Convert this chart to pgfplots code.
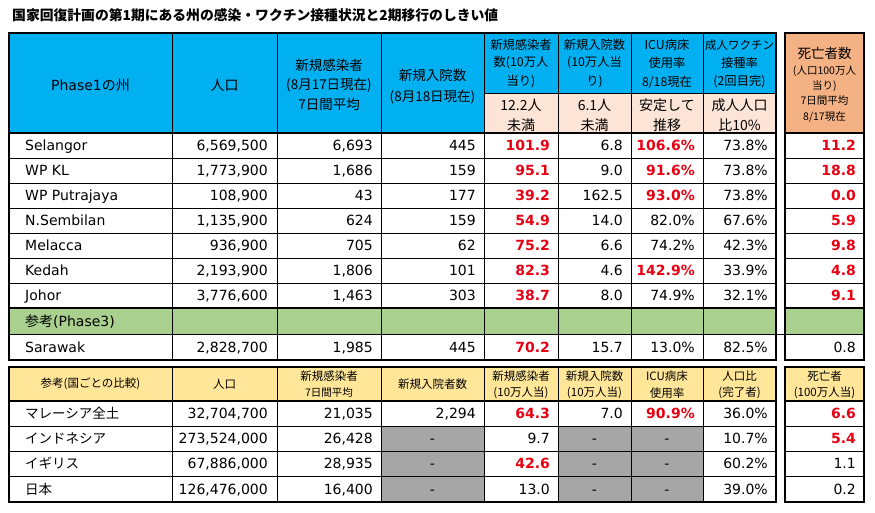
\documentclass[border=0pt]{standalone}
\usepackage{fontspec}
\setmainfont{DejaVu Sans}
\newfontfamily\jp{Noto Sans CJK JP}
\usepackage{pgfplots}
\pgfplotsset{compat=1.18}
\pgfkeys{/pgf/number format/assume math mode=true}
\definecolor{hblue}{RGB}{0,176,240}
\definecolor{hpeach}{RGB}{252,228,214}
\definecolor{horange}{RGB}{244,177,131}
\definecolor{hgreen}{RGB}{169,208,142}
\definecolor{hyellow}{RGB}{255,230,153}
\definecolor{hgray}{RGB}{166,166,166}
\definecolor{hired}{RGB}{232,0,18}
\newcommand\fs[1]{\fontsize{#1}{#1}\selectfont}
\pgfplotsset{
  cell/.style={draw=none, mark=none, point meta=explicit, nodes near coords,
    every node near coord/.append style={anchor=base east, yshift=-5pt, inner sep=0pt, font=\fs{14}, text=black}},
  intc/.style={cell, nodes near coords={\pgfmathprintnumber[fixed,precision=0,1000 sep={,}]{\pgfplotspointmeta}}},
  decc/.style={cell, nodes near coords={\pgfmathprintnumber[fixed,fixed zerofill,precision=1]{\pgfplotspointmeta}}},
  pctc/.style={cell, nodes near coords={\pgfmathprintnumber[fixed,fixed zerofill,precision=1]{\pgfplotspointmeta}\%}},
  hil/.style={every node near coord/.append style={font=\fs{14}\bfseries, text=hired}},
}
\tikzset{
  thinl/.style={line width=0.9pt},
  medl/.style={line width=1.8pt},
  thkl/.style={line width=2.6pt},
  hd/.style={anchor=center, inner sep=0pt, font=\jp\fs{12.3}},
  lbl/.style={anchor=base west, yshift=-5pt, inner sep=0pt, font=\fs{14}},
}
\begin{document}
\begin{tikzpicture}
\begin{axis}[scale only axis, width=875pt, height=512pt, xmin=0, xmax=875, ymin=0, ymax=512,
  y dir=reverse, hide axis, clip=false]
\path (axis cs:0,0) rectangle (axis cs:875,512);
% ---------- fills
\fill[hblue] (axis cs:9,33) rectangle (axis cs:776,93);
\fill[hblue] (axis cs:9,93) rectangle (axis cs:484,133);
\fill[hpeach] (axis cs:484,93) rectangle (axis cs:776,133);
\fill[horange] (axis cs:785,33) rectangle (axis cs:864,133);
\fill[hgreen] (axis cs:9,308) rectangle (axis cs:776,334);
\fill[hgreen] (axis cs:785,308) rectangle (axis cs:864,334);
\fill[hyellow] (axis cs:9,367) rectangle (axis cs:776,401);
\fill[hyellow] (axis cs:785,367) rectangle (axis cs:864,401);
\fill[hgray] (axis cs:381,426) rectangle (axis cs:484,502);
\fill[hgray] (axis cs:558,426) rectangle (axis cs:703,502);
% ---------- lines table 1
\pgfplotsinvokeforeach{172,277,381,484,558,631,703}{\draw[thinl] (axis cs:#1,33) -- (axis cs:#1,360);}
\draw[thinl] (axis cs:484,93) -- (axis cs:776,93);
\pgfplotsinvokeforeach{158,183,208,233,258,283,334}{\draw[thinl] (axis cs:9,#1) -- (axis cs:776,#1);
  \draw[thinl] (axis cs:785,#1) -- (axis cs:864,#1);}
\draw[thinl] (axis cs:776,334) -- (axis cs:785,334);
\pgfplotsinvokeforeach{133,308}{\draw[medl] (axis cs:9,#1) -- (axis cs:776,#1);
  \draw[medl] (axis cs:785,#1) -- (axis cs:864,#1);}
\draw[thkl] (axis cs:9,33) rectangle (axis cs:776,360);
\draw[thkl] (axis cs:785,33) rectangle (axis cs:864,360);
% ---------- lines table 2
\pgfplotsinvokeforeach{172,277,381,484,558,631,703}{\draw[thinl] (axis cs:#1,367) -- (axis cs:#1,502);}
\pgfplotsinvokeforeach{426,451,476}{\draw[thinl] (axis cs:9,#1) -- (axis cs:776,#1);
  \draw[thinl] (axis cs:785,#1) -- (axis cs:864,#1);}
\draw[medl] (axis cs:9,401) -- (axis cs:776,401);
\draw[medl] (axis cs:785,401) -- (axis cs:864,401);
\draw[thkl] (axis cs:9,367) rectangle (axis cs:776,502);
\draw[thkl] (axis cs:785,367) rectangle (axis cs:864,502);
% ---------- title
\node[anchor=west, inner sep=0pt, font=\jp\bfseries\fs{13.8}] at (axis cs:12,15) {国家回復計画の第1期にある州の感染・ワクチン接種状況と2期移行のしきい値};
% ---------- header table 1
\node[anchor=center, inner sep=0pt, font=\fs{14}] at (axis cs:90.5,85) {Phase1{\jp の州}};
\node[hd, font=\jp\fs{14}] at (axis cs:224.5,85) {人口};
\node[hd, font=\jp\fs{13.5}] at (axis cs:329,65) {新規感染者};
\node[hd, font=\jp\fs{13.5}] at (axis cs:329,85) {(8月17日現在)};
\node[hd, font=\jp\fs{13.5}] at (axis cs:329,104) {7日間平均};
\node[hd, font=\jp\fs{13.5}] at (axis cs:432.5,75) {新規入院数};
\node[hd, font=\jp\fs{13.5}] at (axis cs:432.5,97) {(8月18日現在)};
\node[hd] at (axis cs:521,45) {新規感染者};
\node[hd] at (axis cs:521,63) {数(10万人};
\node[hd] at (axis cs:521,82) {当り)};
\node[hd] at (axis cs:594.5,45) {新規入院数};
\node[hd] at (axis cs:594.5,63) {(10万人当};
\node[hd] at (axis cs:594.5,82) {り)};
\node[hd] at (axis cs:667,45) {ICU病床};
\node[hd] at (axis cs:667,63) {使用率};
\node[hd] at (axis cs:667,82) {8/18現在};
\node[hd, font=\jp\fs{11.5}] at (axis cs:739.5,45) {成人ワクチン};
\node[hd] at (axis cs:739.5,63) {接種率};
\node[hd] at (axis cs:739.5,82) {(2回目完)};
\node[hd, font=\jp\fs{14}] at (axis cs:521,105) {12.2人};
\node[hd, font=\jp\fs{14}] at (axis cs:521,125) {未満};
\node[hd, font=\jp\fs{14}] at (axis cs:594.5,105) {6.1人};
\node[hd, font=\jp\fs{14}] at (axis cs:594.5,125) {未満};
\node[hd, font=\jp\fs{14}] at (axis cs:667,105) {安定して};
\node[hd, font=\jp\fs{14}] at (axis cs:667,125) {推移};
\node[hd, font=\jp\fs{14}] at (axis cs:739.5,105) {成人人口};
\node[hd, font=\jp\fs{14}] at (axis cs:739.5,125) {比10\%};
\node[hd, font=\jp\fs{13.5}] at (axis cs:824.5,53) {死亡者数};
\node[hd, font=\jp\fs{10.5}] at (axis cs:824.5,71) {(人口100万人};
\node[hd, font=\jp\fs{10.5}] at (axis cs:824.5,86) {当り)};
\node[hd, font=\jp\fs{10.5}] at (axis cs:824.5,101) {7日間平均};
\node[hd, font=\jp\fs{10.5}] at (axis cs:824.5,117) {8/17現在};
% ---------- header table 2
\node[hd, font=\jp\fs{11.5}] at (axis cs:90.5,384) {参考(国ごとの比較)};
\node[hd, font=\jp\fs{11.5}] at (axis cs:224.5,384) {人口};
\node[hd, font=\jp\fs{11.5}] at (axis cs:329,376) {新規感染者};
\node[hd, font=\jp\fs{10.5}] at (axis cs:329,393) {7日間平均};
\node[hd, font=\jp\fs{11.5}] at (axis cs:432.5,384) {新規入院者数};
\node[hd, font=\jp\fs{11.5}] at (axis cs:521,376) {新規感染者};
\node[hd, font=\jp\fs{11.5}] at (axis cs:521,393) {(10万人当)};
\node[hd, font=\jp\fs{11.5}] at (axis cs:594.5,376) {新規入院数};
\node[hd, font=\jp\fs{11.5}] at (axis cs:594.5,393) {(10万人当)};
\node[hd, font=\jp\fs{11.5}] at (axis cs:667,376) {ICU病床};
\node[hd, font=\jp\fs{11.5}] at (axis cs:667,393) {使用率};
\node[hd, font=\jp\fs{11.5}] at (axis cs:739.5,376) {人口比};
\node[hd, font=\jp\fs{11.5}] at (axis cs:739.5,393) {(完了者)};
\node[hd, font=\jp\fs{11.5}] at (axis cs:824.5,376) {死亡者};
\node[hd, font=\jp\fs{11.5}] at (axis cs:824.5,393) {(100万人当)};
% ---------- row labels
\node[lbl] at (axis cs:25,145.5) {Selangor};
\node[lbl] at (axis cs:25,170.5) {WP KL};
\node[lbl] at (axis cs:25,195.5) {WP Putrajaya};
\node[lbl] at (axis cs:25,220.5) {N.Sembilan};
\node[lbl] at (axis cs:25,245.5) {Melacca};
\node[lbl] at (axis cs:25,270.5) {Kedah};
\node[lbl] at (axis cs:25,295.5) {Johor};
\node[lbl] at (axis cs:25,321) {{\jp 参考}(Phase3)};
\node[lbl] at (axis cs:25,347) {Sarawak};
\node[lbl, font=\jp\fs{13.5}] at (axis cs:25,413.5) {マレーシア全土};
\node[lbl, font=\jp\fs{13.5}] at (axis cs:25,438.5) {インドネシア};
\node[lbl, font=\jp\fs{13.5}] at (axis cs:25,463.5) {イギリス};
\node[lbl, font=\jp\fs{13.5}] at (axis cs:25,489) {日本};
% dashes in grey cells
\pgfplotsinvokeforeach{438.5,463.5,489}{
  \node[anchor=base, yshift=-5pt, inner sep=0pt, font=\fs{14}] at (axis cs:432.5,#1) {-};
  \node[anchor=base, yshift=-5pt, inner sep=0pt, font=\fs{14}] at (axis cs:594.5,#1) {-};
  \node[anchor=base, yshift=-5pt, inner sep=0pt, font=\fs{14}] at (axis cs:667,#1) {-};}
% ---------- data: population
\addplot[intc] coordinates {(268,145.5)[6569500] (268,170.5)[1773900] (268,195.5)[108900]
  (268,220.5)[1135900] (268,245.5)[936900] (268,270.5)[2193900] (268,295.5)[3776600]
  (268,347)[2828700] (268,413.5)[32704700] (268,438.5)[273524000] (268,463.5)[67886000] (268,489)[126476000]};
% new infections 7-day avg
\addplot[intc] coordinates {(373,145.5)[6693] (373,170.5)[1686] (373,195.5)[43]
  (373,220.5)[624] (373,245.5)[705] (373,270.5)[1806] (373,295.5)[1463]
  (373,347)[1985] (373,413.5)[21035] (373,438.5)[26428] (373,463.5)[28935] (373,489)[16400]};
% new hospitalisations
\addplot[intc] coordinates {(476,145.5)[445] (476,170.5)[159] (476,195.5)[177]
  (476,220.5)[159] (476,245.5)[62] (476,270.5)[101] (476,295.5)[303]
  (476,347)[445] (476,413.5)[2294]};
% new infections per 100k
\addplot[decc, hil] coordinates {(550,145.5)[101.9] (550,170.5)[95.1] (550,195.5)[39.2]
  (550,220.5)[54.9] (550,245.5)[75.2] (550,270.5)[82.3] (550,295.5)[38.7]
  (550,347)[70.2] (550,413.5)[64.3] (550,463.5)[42.6]};
\addplot[decc] coordinates {(550,438.5)[9.7] (550,489)[13.0]};
% new hospitalisations per 100k
\addplot[decc] coordinates {(623,145.5)[6.8] (623,170.5)[9.0] (623,195.5)[162.5]
  (623,220.5)[14.0] (623,245.5)[6.6] (623,270.5)[4.6] (623,295.5)[8.0]
  (623,347)[15.7] (623,413.5)[7.0]};
% ICU usage
\addplot[pctc, hil] coordinates {(695,145.5)[106.6] (695,170.5)[91.6] (695,195.5)[93.0]
  (695,270.5)[142.9] (695,413.5)[90.9]};
\addplot[pctc] coordinates {(695,220.5)[82.0] (695,245.5)[74.2] (695,295.5)[74.9] (695,347)[13.0]};
% vaccination
\addplot[pctc] coordinates {(768,145.5)[73.8] (768,170.5)[73.8] (768,195.5)[73.8]
  (768,220.5)[67.6] (768,245.5)[42.3] (768,270.5)[33.9] (768,295.5)[32.1]
  (768,347)[82.5] (768,413.5)[36.0] (768,438.5)[10.7] (768,463.5)[60.2] (768,489)[39.0]};
% deaths per million
\addplot[decc, hil] coordinates {(856,145.5)[11.2] (856,170.5)[18.8] (856,195.5)[0.0]
  (856,220.5)[5.9] (856,245.5)[9.8] (856,270.5)[4.8] (856,295.5)[9.1]
  (856,413.5)[6.6] (856,438.5)[5.4]};
\addplot[decc] coordinates {(856,347)[0.8] (856,463.5)[1.1] (856,489)[0.2]};
\end{axis}
\end{tikzpicture}
\end{document}
